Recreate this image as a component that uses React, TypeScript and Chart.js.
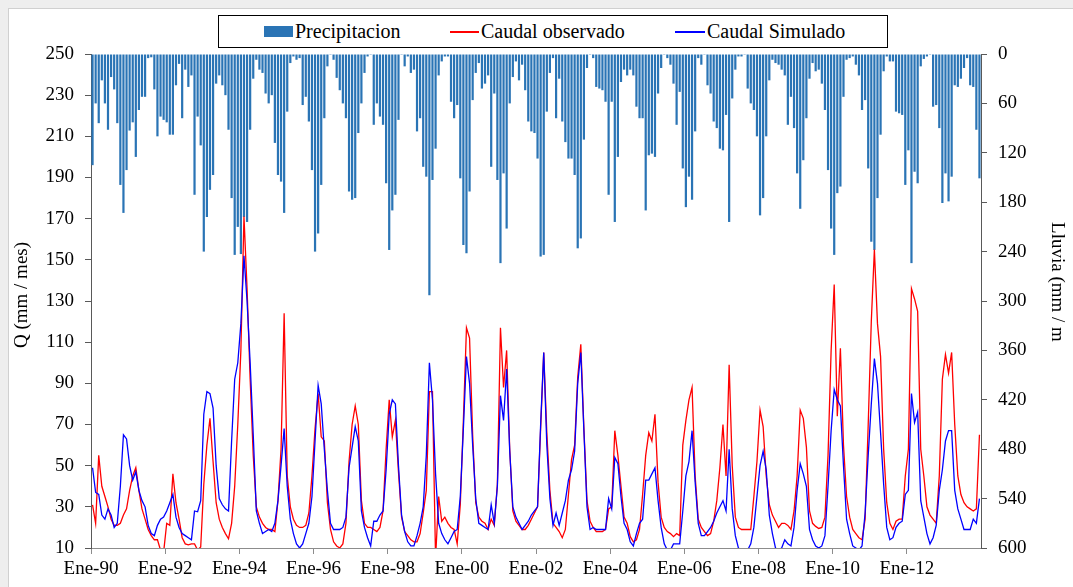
import React, { useEffect, useRef } from 'react';
import { Chart, registerables } from 'chart.js';

Chart.register(...registerables);

// Monthly series, Ene-1990 .. Dic-2013 (288 months)
const rain: number[] = [
  135, 60, 84, 32, 60, 92, 28, 43, 84, 159, 193, 141,
  93, 83, 125, 68, 52, 52, 5, 4, 43, 100, 76, 80,
  83, 98, 98, 38, 12, 78, 19, 40, 26, 171, 76, 111,
  240, 198, 165, 147, 36, 26, 38, 50, 92, 175, 244, 210,
  243, 198, 204, 92, 30, 7, 19, 23, 48, 60, 50, 108,
  147, 155, 193, 70, 11, 3, 7, 5, 62, 52, 82, 141,
  240, 218, 159, 78, 15, 1, 7, 29, 44, 60, 78, 167,
  177, 175, 96, 60, 23, 3, 1, 86, 60, 76, 86, 157,
  238, 190, 171, 80, 1, 15, 3, 23, 19, 94, 78, 137,
  149, 293, 153, 115, 26, 9, 3, 3, 58, 78, 62, 151,
  232, 242, 167, 56, 23, 11, 42, 36, 26, 137, 48, 153,
  254, 145, 212, 60, 28, 9, 32, 13, 44, 82, 94, 96,
  127, 246, 244, 70, 23, 5, 78, 30, 82, 107, 127, 127,
  147, 236, 224, 104, 17, 1, 5, 40, 42, 44, 58, 171,
  58, 204, 125, 34, 19, 26, 19, 26, 64, 78, 78, 190,
  123, 121, 125, 48, 17, 1, 5, 13, 36, 86, 46, 139,
  186, 149, 177, 94, 5, 13, 1, 38, 48, 82, 90, 115,
  117, 74, 204, 54, 19, 3, 3, 1, 42, 60, 68, 100,
  196, 175, 100, 32, 7, 11, 13, 19, 26, 86, 52, 90,
  145, 188, 129, 78, 30, 11, 21, 19, 36, 68, 141, 212,
  244, 169, 161, 52, 7, 5, 3, 13, 26, 68, 56, 139,
  228, 238, 175, 98, 21, 3, 9, 9, 70, 72, 74, 159,
  117, 254, 143, 157, 15, 6, 3, 1, 64, 62, 90, 181,
  145, 179, 149, 38, 40, 30, 17, 5, 38, 40, 92, 151,
];

const observed: number[] = [
  31, 22, 55, 40, 35, 30, 24, 21, 21, 22, 26, 29,
  38, 45, 49, 38, 29, 24, 19, 16, 14, 14, 9, 8,
  22, 21, 46, 32, 24, 15, 12, 11.5, 12, 12, 9, 10.5,
  41, 60, 73, 52, 32, 24, 20, 17, 14.5, 22, 40, 70,
  106, 171, 136, 92, 55, 30, 25, 22, 20, 19, 19, 18,
  33, 58, 124, 45, 30, 24, 21, 20, 20, 21, 27, 45,
  68, 85, 64, 62, 32, 19, 13, 11, 10, 12, 22, 52,
  70, 79, 70, 33, 22, 20, 20, 19, 18, 20, 28, 58,
  82, 64, 72, 47, 25, 18, 16, 14, 13, 13, 17, 27,
  38, 86, 86, 5, 35, 23, 25, 22, 20, 19, 12, 31,
  72, 117, 112, 65, 32, 25, 23, 22, 19, 24, 21, 41,
  117, 88, 106, 58, 28, 23, 21, 19, 19, 21, 24, 27,
  30, 68, 105, 66, 38, 22, 20, 18, 15, 19, 36, 53,
  60, 93, 109, 68, 33, 23, 20, 18, 18, 18, 19, 29,
  30, 67, 55, 40, 25, 22, 15.5, 13, 14, 19, 36, 55,
  66, 62, 75, 42, 25, 20, 18, 17, 15.5, 17, 16, 60,
  72, 82, 88, 45, 24, 20, 18, 16, 17, 23, 33, 49,
  70, 45, 99, 50, 25, 20, 19, 19, 19, 19, 35, 52,
  77, 69, 45, 31, 26, 23, 20, 22, 22, 21, 19, 28,
  45, 77, 73, 59, 28, 22, 20.5, 19.5, 20, 25, 55, 106,
  138, 74, 107, 60, 35, 25, 19, 17, 15, 14, 24, 70,
  120, 155, 119, 103, 58, 32, 22, 19, 23, 24, 24, 45,
  58, 136, 131, 125, 58, 45, 30, 26, 24, 22, 45, 92,
  104, 95, 105, 70, 45, 36, 32, 30, 29, 28, 29, 65,
];

const simulated: number[] = [
  49, 37, 36, 26, 24, 29, 26, 20, 22, 40, 65, 63,
  50, 43, 47, 38, 33, 30, 21, 17, 16, 21, 24, 25,
  28, 32, 36, 25, 20, 17, 16, 15, 14, 28, 27.6, 33,
  75, 86, 85, 78, 50, 34, 31, 29, 28, 62, 92, 100,
  119, 152, 130, 100, 65, 28, 22, 17, 18, 19, 18, 22,
  33, 50, 68, 40, 24, 17, 12, 10, 12, 17, 22, 35,
  62, 89, 80, 58, 38, 22, 19, 19, 19, 20, 25, 49,
  59, 69, 62, 28, 20, 15, 11, 23, 23, 26, 28, 48,
  75, 82, 80, 50, 26, 18, 13, 11, 11, 16, 22, 30,
  55, 100, 82, 46, 22, 17, 14, 12, 15, 18, 19, 35,
  68, 103, 90, 60, 34, 22, 21, 20, 19, 31, 22, 40,
  84, 72, 97, 57, 30, 25, 22, 19, 21, 23, 26, 28,
  30, 70, 105, 60, 34, 21, 27, 21, 27, 33, 43, 48,
  57, 90, 105, 67, 30, 19, 20, 19, 19, 19, 19, 34,
  29, 54, 51, 35, 22, 19, 13, 11, 17, 22, 24, 43,
  43, 46, 49, 33, 20, 12, 9, 9, 12, 12, 12, 28,
  45, 52, 67, 42, 22, 16, 16, 18, 20, 23, 27, 30,
  33, 28, 58, 29, 16, 10, 9, 9, 9, 12, 20, 35,
  50, 57, 48, 26, 17, 10, 9, 10, 14, 12, 11, 20,
  38, 51, 46, 40, 19, 14, 11, 10, 11, 16, 40, 67,
  87, 82, 79, 50, 24, 17, 11, 10, 9, 11, 27, 55,
  80, 102, 90, 66, 41, 20, 14, 15, 20, 22, 23, 36,
  38, 85, 71, 76, 33, 25, 17, 12, 15, 21, 38, 48,
  62, 67, 67, 38, 29, 24, 19, 19, 19, 24, 22, 34,
];

const xTickLabels: string[] = [
  'Ene-90', 'Ene-92', 'Ene-94', 'Ene-96', 'Ene-98', 'Ene-00',
  'Ene-02', 'Ene-04', 'Ene-06', 'Ene-08', 'Ene-10', 'Ene-12',
];

const monthsPerTick = 24;
const totalMonths = 288;

const FONT = "'Liberation Serif', 'Times New Roman', serif";
const BAR_COLOR = '#2a74b5';
const RED = '#ff0000';
const BLUE = '#0000ff';

export default function App() {
  const ref = useRef<HTMLCanvasElement | null>(null);

  useEffect(() => {
    if (!ref.current) return;
    const toXY = (arr: number[]) => arr.map((v, i) => ({ x: i + 0.5, y: v }));

    const axisTitles = {
      id: 'axisTitles',
      afterDraw(chart: any) {
        const ctx = chart.ctx;
        ctx.save();
        ctx.fillStyle = '#000';
        ctx.font = `19px ${FONT}`;
        ctx.textAlign = 'center';
        ctx.textBaseline = 'middle';
        ctx.translate(22, 295);
        ctx.rotate(-Math.PI / 2);
        ctx.fillText('Q (mm / mes)', 0, 0);
        ctx.restore();
        ctx.save();
        ctx.fillStyle = '#000';
        ctx.font = `19px ${FONT}`;
        ctx.textAlign = 'center';
        ctx.textBaseline = 'middle';
        ctx.translate(1057, 282);
        ctx.rotate(Math.PI / 2);
        ctx.fillText('Lluvia (mm / m', 0, 0);
        ctx.restore();
      },
    };

    const tickFont = { family: FONT, size: 19 };

    const chart = new Chart(ref.current, {
      type: 'bar',
      data: {
        datasets: [
          {
            type: 'bar',
            label: 'Precipitacion',
            data: toXY(rain),
            yAxisID: 'y2',
            backgroundColor: BAR_COLOR,
            barPercentage: 0.72,
            categoryPercentage: 1,
            order: 3,
          } as any,
          {
            type: 'line',
            label: 'Caudal observado',
            data: toXY(observed),
            yAxisID: 'y',
            borderColor: RED,
            borderWidth: 1.3,
            pointRadius: 0,
            tension: 0,
            order: 2,
          } as any,
          {
            type: 'line',
            label: 'Caudal Simulado',
            data: toXY(simulated),
            yAxisID: 'y',
            borderColor: BLUE,
            borderWidth: 1.3,
            pointRadius: 0,
            tension: 0,
            order: 1,
          } as any,
        ],
      },
      options: {
        responsive: false,
        animation: false,
        events: [],
        layout: { padding: { top: 54, left: 0, right: 0, bottom: 0 } },
        plugins: { legend: { display: false }, tooltip: { enabled: false } },
        scales: {
          x: {
            type: 'linear',
            min: 0,
            max: totalMonths,
            offset: false,
            afterBuildTicks: (s: any) => {
              s.ticks = xTickLabels.map((_, k) => ({ value: k * monthsPerTick }));
            },
            afterFit: (s: any) => {
              s.height = 39;
            },
            ticks: {
              callback: (v: any) => xTickLabels[Math.round(Number(v) / monthsPerTick)] ?? '',
              autoSkip: false,
              maxRotation: 0,
              minRotation: 0,
              font: tickFont,
              color: '#000',
              padding: 4,
            },
            grid: {
              offset: false,
              drawOnChartArea: false,
              drawTicks: true,
              tickLength: 6,
              color: '#8c8c8c',
            },
            border: { display: true, color: '#8c8c8c', width: 1 },
          },
          y: {
            position: 'left',
            min: 10,
            max: 250,
            afterFit: (s: any) => {
              s.width = 91;
            },
            ticks: { stepSize: 20, font: tickFont, color: '#000', padding: 11 },
            grid: { drawOnChartArea: false, drawTicks: true, tickLength: 6, color: '#595959' },
            border: { display: true, color: '#595959', width: 1 },
          },
          y2: {
            position: 'right',
            min: 0,
            max: 600,
            reverse: true,
            afterFit: (s: any) => {
              s.width = 92;
            },
            ticks: { stepSize: 60, font: tickFont, color: '#000', padding: 11 },
            grid: { drawOnChartArea: false, drawTicks: true, tickLength: 6, color: '#595959' },
            border: { display: true, color: '#595959', width: 1 },
          },
        },
      } as any,
      plugins: [axisTitles],
    });
    return () => chart.destroy();
  }, []);

  const legendText: React.CSSProperties = {
    position: 'absolute',
    top: 0,
    lineHeight: '31px',
    fontFamily: FONT,
    fontSize: 20,
    color: '#000',
    whiteSpace: 'nowrap',
  };

  return (
    <div
      style={{
        position: 'absolute',
        left: 0,
        top: 0,
        width: 1073,
        height: 587,
        background: '#eeeeee',
        overflow: 'hidden',
      }}
    >
      <div
        style={{
          position: 'absolute',
          left: 8,
          top: 8,
          width: 1065,
          height: 579,
          background: '#ffffff',
          borderLeft: '1px solid #d0d0d0',
          borderTop: '1px solid #d0d0d0',
        }}
      />
      <canvas
        ref={ref}
        width={1073}
        height={587}
        style={{ position: 'absolute', left: 0, top: 0, width: 1073, height: 587, display: 'block' }}
      />
      <div
        style={{
          position: 'absolute',
          left: 218,
          top: 15,
          width: 670,
          height: 33,
          boxSizing: 'border-box',
          border: '1px solid #000',
          background: '#fff',
        }}
      >
        <div style={{ position: 'absolute', left: 45, top: 10, width: 29, height: 11, background: BAR_COLOR }} />
        <div style={{ ...legendText, left: 76 }}>Precipitacion</div>
        <div style={{ position: 'absolute', left: 231, top: 15, width: 29, height: 2, background: RED }} />
        <div style={{ ...legendText, left: 262 }}>Caudal observado</div>
        <div style={{ position: 'absolute', left: 456, top: 15, width: 30, height: 2, background: BLUE }} />
        <div style={{ ...legendText, left: 488 }}>Caudal Simulado</div>
      </div>
    </div>
  );
}
